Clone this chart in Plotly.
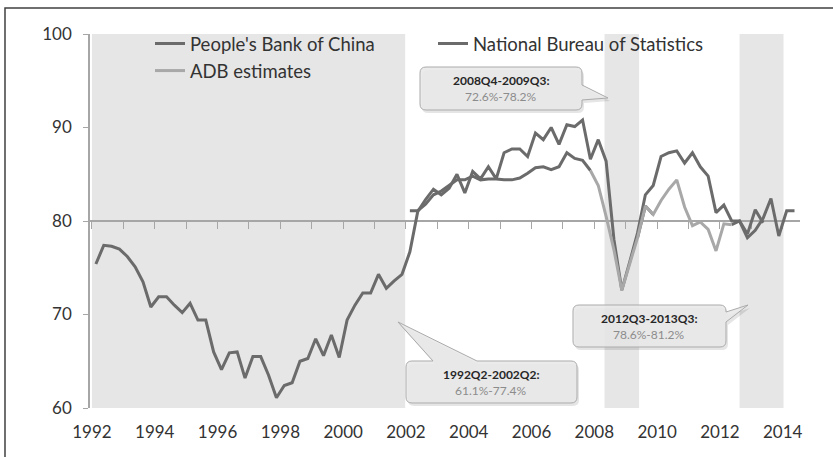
import pandas as pd
import plotly.graph_objects as go

# ---- data -----------------------------------------------------------------
quarters = [str(p) for p in pd.period_range("1992Q2", "2014Q3", freq="Q")]

# capacity utilisation, %, People's Bank of China survey (1992Q2-2014Q3)
pboc = [75.4, 77.4, 77.3, 77.0, 76.2, 75.1, 73.5, 70.8, 71.9, 71.9,
        71.0, 70.2, 71.2, 69.4, 69.4, 66.0, 64.1, 65.9, 66.0, 63.2,
        65.5, 65.5, 63.5, 61.1, 62.4, 62.7, 65.0, 65.3, 67.4, 65.6,
        67.8, 65.4, 69.4, 71.0, 72.3, 72.3, 74.3, 72.8, 73.6, 74.3,
        76.7, 81.0, 82.3, 83.4, 82.8, 83.5, 85.0, 83.0, 85.3, 84.5,
        85.8, 84.5, 87.3, 87.7, 87.7, 86.9, 89.4, 88.7, 90.0, 88.2,
        90.3, 90.1, 90.8, 86.6, 88.7, 86.4, 78.0, 72.6, 75.6, 78.7,
        82.8, 83.8, 86.9, 87.3, 87.5, 86.2, 87.3, 85.8, 84.8, 80.9,
        81.7, 80.0, 80.0, 78.2, 79.0, 80.3, 82.4, 78.4, 81.1, 81.1]

# National Bureau of Statistics, 2002Q2-2013Q4 (gaps where not published)
nbs_start = "2002Q2"
nbs = [81.1, 81.1, 81.8, 82.8, 83.2, 83.8, 84.4, 84.4, 84.8, 84.4,
       84.5, 84.5, 84.4, 84.4, 84.6, 85.1, 85.7, 85.8, 85.5, 85.8,
       87.3, 86.7, 86.5, 85.4,
       None, None, None, None, None,
       78.2, 81.6, 80.7,
       None, None, None, None, None, None, None, None, None,
       79.6, 80.0, 78.6, 81.2, 79.8]

# ADB estimates, 2008Q1-2012Q4
adb_start = "2008Q1"
adb = [85.4, 83.8, 80.5, 76.9, 72.6, 75.4, 78.2, 81.6, 80.7, 82.2,
       83.4, 84.4, 81.5, 79.5, 79.9, 79.1, 76.8, 79.7, 79.6]

# shaded periods, in quarter-index units
shade_spans = [(-0.5, 39.4), (64.8, 69.2), (82.0, 87.6)]

# callout periods: (start, end, series name)
callouts = [("2008Q4", "2009Q3", "adb"),
            ("2012Q3", "2013Q3", "nbs"),
            ("1992Q2", "2002Q2", "pboc")]

label_years = list(range(1992, 2015, 2))

# ---- helpers ----------------------------------------------------------------
idx = {q: i for i, q in enumerate(quarters)}


def on_grid(start, values):
    full = [None] * len(quarters)
    s = idx[start]
    for k, v in enumerate(values):
        full[s + k] = v
    return full


series = {"pboc": pboc,
          "nbs": on_grid(nbs_start, nbs),
          "adb": on_grid(adb_start, adb)}
x = list(range(len(quarters)))

# plot-area geometry (pixels)
L, T, W, H = 90, 34, 710, 374
FIG_W, FIG_H = 833, 457


def px2x(px):
    return (px - L) / W


def py2y(py):
    return (T + H - py) / H


def pt(px, py):
    return f"{px2x(px):.5f},{py2y(py):.5f}"


def callout_path(box, tail, r=6, dx=0, dy=0):
    x0, y0, x1, y1 = box[0] + dx, box[1] + dy, box[2] + dx, box[3] + dy
    side, b1, b2, tx, ty = tail
    tx, ty = tx + dx, ty + dy
    p = [f"M{pt(x0 + r, y0)}"]
    if side == "top":
        p += [f"L{pt(b1 + dx, y0)}", f"L{pt(tx, ty)}", f"L{pt(b2 + dx, y0)}"]
    p += [f"L{pt(x1 - r, y0)}", f"Q{pt(x1, y0)} {pt(x1, y0 + r)}"]
    if side == "right":
        p += [f"L{pt(x1, b1 + dy)}", f"L{pt(tx, ty)}", f"L{pt(x1, b2 + dy)}"]
    p += [f"L{pt(x1, y1 - r)}", f"Q{pt(x1, y1)} {pt(x1 - r, y1)}",
          f"L{pt(x0 + r, y1)}", f"Q{pt(x0, y1)} {pt(x0, y1 - r)}",
          f"L{pt(x0, y0 + r)}", f"Q{pt(x0, y0)} {pt(x0 + r, y0)}", "Z"]
    return " ".join(p)


FONT = "Lato, 'Open Sans', sans-serif"
DARK = "#6b6b6b"
LIGHT = "#a8a8a8"
AXIS = "#a6a6a6"

fig = go.Figure()

fig.add_trace(go.Scatter(x=x, y=series["adb"], name="ADB estimates", mode="lines",
                         line=dict(color=LIGHT, width=3), legendrank=3,
                         customdata=quarters, hovertemplate="%{customdata}: %{y}<extra></extra>",
                         xaxis="x2"))
fig.add_trace(go.Scatter(x=x, y=series["nbs"], name="National Bureau of Statistics", mode="lines",
                         line=dict(color=DARK, width=3), legendrank=2,
                         customdata=quarters, hovertemplate="%{customdata}: %{y}<extra></extra>"))
fig.add_trace(go.Scatter(x=x, y=series["pboc"], name="People's Bank of China", mode="lines",
                         line=dict(color=DARK, width=3), legendrank=1,
                         customdata=quarters, hovertemplate="%{customdata}: %{y}<extra></extra>"))

xrange = [-0.75, 89.7]
tickvals = [idx[f"{y}Q2"] - 0.5 for y in label_years]
year_ticks = [idx[f"{y}Q2"] - 0.5 for y in range(1992, 2015)]

shapes = []
for a, b in shade_spans:
    shapes.append(dict(type="rect", xref="x", yref="paper", x0=a, x1=b, y0=0, y1=1,
                       fillcolor="#e6e6e6", line=dict(width=0), layer="below"))

# outer frame: top and left edges as one open polyline
shapes.append(dict(type="path", xref="paper", yref="paper",
                   path=f"M{pt(FIG_W, 8)} L{pt(5, 8)} L{pt(5, FIG_H)}",
                   line=dict(color="#404040", width=1.5), fillcolor="rgba(0,0,0,0)",
                   layer="above"))

boxes = [((420, 67, 582, 110), ("right", 85, 100, 608, 98), (501, 80), (501, 96)),
         ((573, 305, 726, 347), ("right", 312, 322, 748, 305), (649, 318), (649, 334)),
         ((406, 361, 577, 403), ("top", 433, 477, 398, 322), (491, 374), (491, 390))]

annotations = []
for (start, end, key), (box, tail, p1, p2) in zip(callouts, boxes):
    vals = [v for v in series[key][idx[start]:idx[end] + 1] if v is not None]
    shapes.append(dict(type="path", xref="paper", yref="paper",
                       path=callout_path(box, tail, dx=2, dy=3),
                       fillcolor="rgba(0,0,0,0.10)", line=dict(width=0), layer="above"))
    shapes.append(dict(type="path", xref="paper", yref="paper",
                       path=callout_path(box, tail),
                       fillcolor="rgba(232,232,232,0.88)", line=dict(color="#ababab", width=1),
                       layer="above"))
    annotations.append(dict(xref="paper", yref="paper", x=px2x(p1[0]), y=py2y(p1[1]),
                            text=f"<b>{start}-{end}:</b>", showarrow=False,
                            font=dict(family=FONT, size=12, color="#262626"),
                            xanchor="center", yanchor="middle"))
    annotations.append(dict(xref="paper", yref="paper", x=px2x(p2[0]), y=py2y(p2[1]),
                            text=f"{min(vals):.1f}%-{max(vals):.1f}%", showarrow=False,
                            font=dict(family=FONT, size=12, color="#8c8c8c"),
                            xanchor="center", yanchor="middle"))

fig.update_layout(
    width=FIG_W, height=FIG_H,
    margin=dict(l=L, r=FIG_W - L - W, t=T, b=FIG_H - T - H),
    paper_bgcolor="white", plot_bgcolor="white",
    font=dict(family=FONT, color="#333333"),
    showlegend=True,
    legend=dict(orientation="h", x=px2x(150), y=py2y(25), xanchor="left", yanchor="top",
                entrywidth=238, entrywidthmode="pixels", bgcolor="rgba(0,0,0,0)",
                font=dict(family=FONT, size=18.5, color="#333333"), traceorder="normal"),
    xaxis=dict(range=xrange, tickmode="array", tickvals=tickvals,
               ticktext=[str(y) for y in label_years], showgrid=False, zeroline=False,
               showline=False, ticks="outside", ticklen=9, tickcolor="rgba(0,0,0,0)",
               tickfont=dict(family=FONT, size=17, color="#333333")),
    xaxis2=dict(range=xrange, overlaying="x", anchor="free", position=0.5, side="bottom",
                tickmode="array", tickvals=year_ticks, showticklabels=False,
                showgrid=False, zeroline=False, showline=True, linecolor=AXIS, linewidth=2,
                ticks="outside", ticklen=7, tickcolor=AXIS, tickwidth=1.2,
                layer="below traces"),
    yaxis=dict(range=[60, 100], tickvals=[60, 70, 80, 90, 100], showgrid=False,
               zeroline=False, showline=True, linecolor=AXIS, linewidth=1.5,
               ticks="outside", ticklen=5, tickcolor=AXIS, ticklabelstandoff=8,
               tickfont=dict(family=FONT, size=17, color="#333333")),
    shapes=shapes,
    annotations=annotations,
)

fig.write_html("out.html", config={"displayModeBar": False})
